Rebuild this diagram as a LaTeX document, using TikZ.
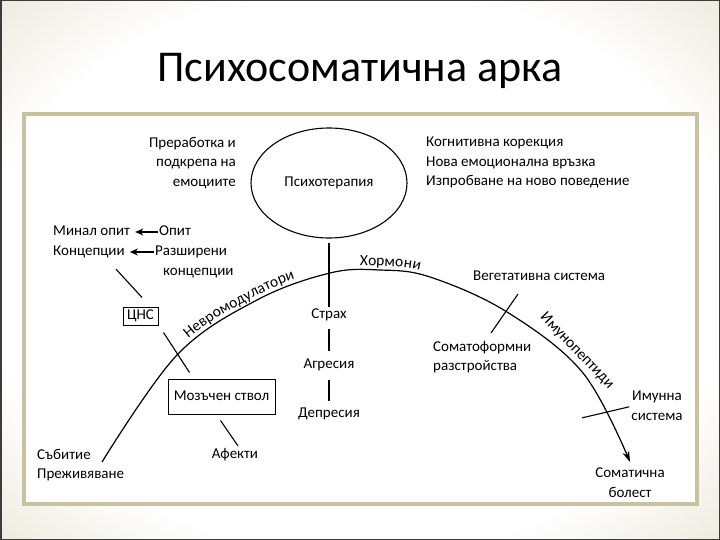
\documentclass[tikz,border=0pt]{standalone}
\usepackage{fontspec}
\setmainfont{Carlito}
\usetikzlibrary{arrows.meta,decorations.text,shapes.geometric}
\definecolor{bgbeige}{RGB}{208,197,162}
\definecolor{boxborder}{RGB}{200,193,162}
\definecolor{frameline}{RGB}{60,60,60}
\pgfdeclareradialshading{slidebg}{\pgfpoint{0bp}{0bp}}{color(0bp)=(white); color(26bp)=(white); color(42bp)=(bgbeige!60); color(58bp)=(bgbeige); color(72bp)=(bgbeige)}
\newcommand\curvefont{\fontsize{15.5}{15.5}\selectfont}
\tikzset{
  txt/.style={font=\fontsize{15}{19.5}\selectfont, inner sep=1pt},
  lbl/.style={txt, text height=10.5pt, text depth=3.2pt},
  boxed/.style={lbl, draw, line width=1pt},
  conn/.style={line width=1.1pt},
  arr/.style={line width=1.2pt, -{Stealth[length=8pt,width=7pt]}},
  arcline/.style={line width=1.2pt, -{Stealth[length=11pt,width=7pt]}},
  curvetext/.style={decorate, decoration={text along path, raise=4pt, text align={left indent=#1}}}
}
\begin{document}
\begin{tikzpicture}[x=1pt,y=-1pt]
\useasboundingbox (0,0) rectangle (720,540);
% slide background
\shade[shading=slidebg] (0,0) rectangle (720,540);
\draw[frameline, line width=3pt] (0,0) rectangle (720,540);
% content panel
\draw[draw=boxborder, fill=white, line width=4pt] (24,114) rectangle (697,504);
% title
\node[font=\fontsize{44}{52}\selectfont, inner sep=0pt] (title) at (360,71) {Психосоматична арка};

% main arc
\draw[arcline] plot[smooth, tension=0.6] coordinates {(102,462) (177,355) (257,300) (330,273) (380,270) (430,277) (507,312) (583,373) (630,462)};
\path[curvetext=150pt, decoration={text={|\curvefont|Невромодулатори}}] plot[smooth, tension=0.6] coordinates {(102,462) (177,355) (257,300) (330,273) (380,270)};
\path[curvetext=108pt, decoration={text={|\curvefont|Хормони}}] plot[smooth, tension=0.6] coordinates {(257,300) (330,273) (380,270) (430,277) (507,312)};
\node[font=\curvefont, inner sep=0pt, rotate=-46] (imun) at (577,351) {Имунопептиди};

% psychotherapy
\node[ellipse, draw, line width=1.1pt, minimum width=156pt, minimum height=110pt, txt] (psy) at (329,183) {Психотерапия};
\node[txt, anchor=north east, align=right] (prer) at (237,136) {Преработка и\\подкрепа на\\емоциите};
\node[txt, anchor=north west, align=left] (kogn) at (425,136) {Когнитивна корекция\\Нова емоционална връзка\\Изпробване на ново поведение};

% centre column
\node[lbl] (strah) at (329,315) {Страх};
\node[lbl] (agr) at (329,365) {Агресия};
\node[lbl] (dep) at (329,414) {Депресия};
\draw[conn, shorten <=4pt] (psy.south) -- (strah.north);
\draw[conn, shorten <=6pt, shorten >=6pt] (strah.south) -- (agr.north);
\draw[conn, shorten <=7pt, shorten >=5pt] (agr.south) -- (dep.north);

% left side
\node[lbl, anchor=west] (minal) at (52,232) {Минал опит};
\node[lbl, anchor=west] (opit) at (158,232) {Опит};
\node[lbl, anchor=west] (konc) at (52,252) {Концепции};
\node[lbl, anchor=west] (razsh) at (154,252) {Разширени};
\node[lbl, anchor=west] (konc2) at (162,272) {концепции};
\draw[arr, shorten >=4pt] (opit.west) -- (minal.east);
\draw[arr, shorten >=4pt] (razsh.west) -- (konc.east);

\node[boxed, inner xsep=2pt, minimum width=35pt, minimum height=18pt] (cns) at (140.5,316) {ЦНС};
\node[boxed, inner xsep=4pt, minimum width=107pt, minimum height=35pt] (brain) at (221.5,396.5) {Мозъчен ствол};
\node[lbl] (afekti) at (235,455) {Афекти};
\node[txt, anchor=north west, align=left] (sabitie) at (36,448) {Събитие\\Преживяване};

\draw[conn] ([shift={(27,9)}]konc.south) -- ([shift={(1.5,-9)}]cns.north);
\draw[conn] ([shift={(5,7)}]cns.south east) -- ([shift={(22,-6)}]brain.north west);
\draw[conn] ([shift={(-1,6)}]brain.south) -- ([shift={(3,-1)}]afekti.north);

% right side
\node[lbl, anchor=west] (veget) at (472,277) {Вегетативна система};
\node[txt, anchor=north west, align=left] (somf) at (432,340) {Соматоформни\\разстройства};
\draw[conn] ([shift={(46,9)}]veget.south west) -- ([shift={(59,-7)}]somf.north west);

\node[txt, anchor=north, align=center] (imm) at (657,390) {Имунна\\система};
\draw[conn] ([shift={(-48,12)}]imm.west) -- ([shift={(-1,1)}]imm.west);

\node[txt, anchor=north, align=center] (somb) at (630,467) {Соматична\\болест};
\end{tikzpicture}
\end{document}
